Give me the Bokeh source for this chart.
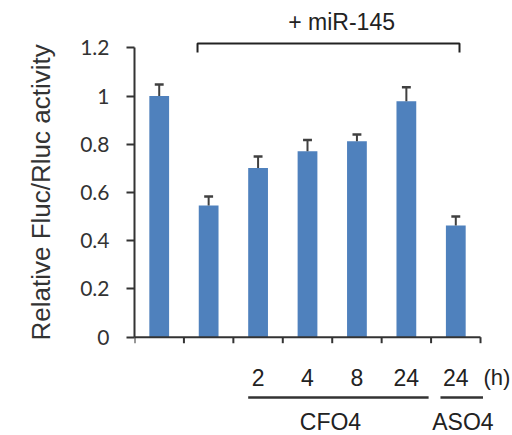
import numpy as np
from bokeh.plotting import figure
from bokeh.models import Range1d, FixedTicker, NumeralTickFormatter, ColumnDataSource, Title
from bokeh.core.properties import value
from bokeh.embed import file_html
from bokeh.resources import INLINE

# ---- data ----
conditions = ["control", "miR-145", "CFO4 2 h", "CFO4 4 h", "CFO4 8 h", "CFO4 24 h", "ASO4 24 h"]
values = [1.00, 0.546, 0.702, 0.771, 0.813, 0.978, 0.463]
errors = [0.048, 0.037, 0.047, 0.047, 0.027, 0.058, 0.037]
hour_labels = ["", "", "2", "4", "8", "24", "24"]
y_ticks = [0, 0.2, 0.4, 0.6, 0.8, 1, 1.2]
y_label = "Relative Fluc/Rluc activity"
treatment_label = "+ miR-145"
group_labels = ["CFO4", "ASO4"]
unit_label = "(h)"

# ---- layout constants (pixels) ----
W, H = 512, 435
LEFT = 134
Y0_PX, Y12_PX = 336.7, 47.3          # canvas y of value 0 and 1.2
PPU_Y = (Y0_PX - Y12_PX) / 1.2
PPU_X = 49.43

n = len(values)
centers = np.arange(n) + 0.5
x_end = (W - LEFT) / PPU_X
y_start = -(H - Y0_PX) / PPU_Y
y_end = 1.2 + Y12_PX / PPU_Y

p = figure(width=W, height=H, output_backend="svg", toolbar_location=None,
           x_range=Range1d(0, x_end), y_range=Range1d(y_start, y_end),
           x_axis_location=None, min_border_left=LEFT, min_border_right=0,
           min_border_top=0, min_border_bottom=0)
p.outline_line_color = None
p.grid.visible = False
p.background_fill_color = "white"
p.border_fill_color = "white"

ax = p.yaxis[0]
ax.bounds = (0, 1.2)
ax.ticker = FixedTicker(ticks=y_ticks)
ax.formatter = NumeralTickFormatter(format="0.[0]")
ax.axis_line_color = "#333333"
ax.axis_line_width = 2
ax.major_tick_line_color = "#333333"
ax.major_tick_line_width = 2
ax.major_tick_out = 8
ax.major_tick_in = 0
ax.minor_tick_line_color = None
ax.major_label_standoff = 17
ax.major_label_text_font = "Lato"
ax.major_label_text_font_size = "21px"
ax.major_label_text_color = "#333333"

# y-axis title, placed in the left panel, starting near the bottom of the axis
p.add_layout(Title(text=y_label, align="left", offset=95, standoff=40, vertical_align="top",
                   text_font="Liberation Sans", text_font_size="26px",
                   text_font_style="normal", text_color="#333333"), "left")

# bars
src = ColumnDataSource(dict(x=centers, top=values, err_top=np.array(values) + np.array(errors)))
p.vbar(x="x", top="top", width=0.4, bottom=0, source=src, fill_color="#4F81BD", line_color=None)
# error bars (upper only)
p.segment(x0="x", y0="top", x1="x", y1="err_top", source=src, line_color="#404040", line_width=2)
cap = 0.09
p.segment(x0=centers - cap, y0=src.data["err_top"], x1=centers + cap, y1=src.data["err_top"],
          line_color="#404040", line_width=2.5)

# x axis line + ticks
tick_len = 6 / PPU_Y
p.segment(x0=[0], y0=[0], x1=[n], y1=[0], line_color="#333333", line_width=2)
xt = np.arange(n + 1)
p.segment(x0=xt, y0=np.zeros(n + 1), x1=xt, y1=np.full(n + 1, -tick_len),
          line_color="#333333", line_width=2)

# bracket above
bx0, bx1, by, bdrop = 1.275, 6.575, 1.218, 1.18
p.line(x=[bx0, bx0, bx1, bx1], y=[bdrop, by, by, bdrop], line_color="#222222", line_width=2)
p.text(x=[4.19], y=[1.305], text=[treatment_label], text_align="center", text_baseline="middle",
       text_font=value("Liberation Sans"), text_font_size=value("23px"), text_color="#222222")

# hour labels
p.text(x=centers, y=np.full(n, -0.167), text=hour_labels, text_align="center", text_baseline="middle",
       text_font=value("Liberation Sans"), text_font_size=value("23px"), text_color="#222222")
p.text(x=[7.06], y=[-0.167], text=[unit_label], text_align="left", text_baseline="middle",
       text_font=value("Liberation Sans"), text_font_size=value("22px"), text_color="#222222")

# group underlines and labels
p.segment(x0=[2.30, 6.19], y0=[-0.25, -0.25], x1=[5.95, 7.05], y1=[-0.25, -0.25],
          line_color="#333333", line_width=2.5)
p.text(x=[3.965, 6.645], y=[y_start + 1.0 / PPU_Y] * 2, text=group_labels, text_align="center",
       text_baseline="bottom", text_font=value("Liberation Sans"), text_font_size=value("23px"),
       text_color="#222222")

open("out.html", "w").write(file_html(p, INLINE))
